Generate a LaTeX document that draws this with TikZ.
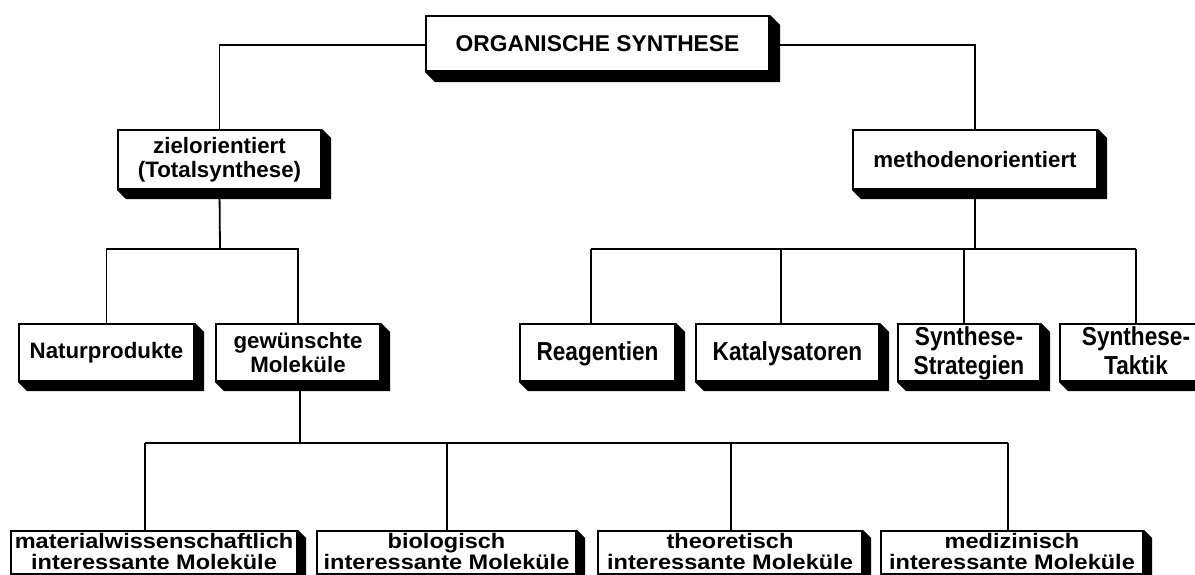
\documentclass[tikz,border=0pt]{standalone}
\usepackage{fontspec}
\setmainfont{Liberation Sans}
\usepackage{graphicx}
\newcommand\condtext[1]{\scalebox{0.87}[1]{\begin{tabular}{@{}c@{}}#1\end{tabular}}}
\newcommand\widetext[1]{\scalebox{1.12}[1]{\begin{tabular}{@{}c@{}}#1\end{tabular}}}
\newcommand\boxshadow[2]{%
  \fill (#1.north east) -- ++(#2,#2) -- ([shift={(#2,#2)}]#1.south east)
    -- ([shift={(#2,#2)}]#1.south west) -- (#1.south west) -- (#1.south east) -- cycle;}
\begin{document}
\begin{tikzpicture}[x=1pt,y=-1pt,
  conn/.style={line width=1.8pt},
  box/.style={draw, line width=2.1pt, fill=white, inner sep=0pt, align=center,
    font=\bfseries\fontsize{22.3}{24}\selectfont},
  midbox/.style={box, minimum height=57pt},
  condbox/.style={box, minimum height=57pt},
  condlabel/.style={inner sep=0pt, yshift=-2pt, font=\bfseries\fontsize{26}{29}\selectfont},
  lowbox/.style={box, minimum height=43pt},
  lowlabel/.style={inner sep=0pt, yshift=-1.5pt, font=\bfseries\fontsize{21}{19}\selectfont}]
\useasboundingbox (0,0) rectangle (1195,575);

% named junction coordinates
\coordinate (tl) at (220,45);
\coordinate (jl) at (220,249);
\coordinate (jr) at (975,249);
\coordinate (r1) at (591,249);
\coordinate (r2) at (781,249);
\coordinate (r3) at (964,249);
\coordinate (r4) at (1136,249);
\coordinate (jb) at (300,443);
\coordinate (b1j) at (145,443);
\coordinate (b2j) at (447,443);
\coordinate (b3j) at (731,443);
\coordinate (b4j) at (1008,443);

% nodes
\node[box, minimum width=343pt, minimum height=55pt, font=\bfseries\fontsize{22.8}{24}\selectfont] (top) at (597.5,43.5) {ORGANISCHE SYNTHESE};
\node[box, minimum width=203pt, minimum height=59pt] (ziel) at (219.5,159.5) {zielorientiert\\(Totalsynthese)};
\node[box, minimum width=244pt, minimum height=59pt] (meth) at (975,159.5) {methodenorientiert};
\node[midbox, minimum width=175pt] (natur) at (106.5,352.5) {Naturprodukte};
\node[midbox, minimum width=164pt] (gew) at (298,352.5) {gewünschte\\Moleküle};
\node[condbox, minimum width=155pt, label={[condlabel]center:\condtext{Reagentien}}] (reag) at (597.5,352.5) {};
\node[condbox, minimum width=183pt, label={[condlabel]center:\condtext{Katalysatoren}}] (kat) at (787.5,352.5) {};
\node[condbox, minimum width=142pt, label={[condlabel]center:\condtext{Synthese-\\Strategien}}] (strat) at (969,352.5) {};
\node[condbox, minimum width=152pt, label={[condlabel]center:\condtext{Synthese-\\Taktik}}] (takt) at (1136,352.5) {};
\node[lowbox, minimum width=286pt, label={[lowlabel]center:\widetext{materialwissenschaftlich\\interessante Moleküle}}] (b1) at (154,552.5) {};
\node[lowbox, minimum width=259pt, label={[lowlabel]center:\widetext{biologisch\\interessante Moleküle}}] (b2) at (446.5,552.5) {};
\node[lowbox, minimum width=264pt, label={[lowlabel]center:\widetext{theoretisch\\interessante Moleküle}}] (b3) at (730,552.5) {};
\node[lowbox, minimum width=262pt, label={[lowlabel]center:\widetext{medizinisch\\interessante Moleküle}}] (b4) at (1012,552.5) {};

% shadows
\boxshadow{top}{10}
\boxshadow{ziel}{9}
\boxshadow{meth}{9}
\boxshadow{natur}{9}
\boxshadow{gew}{9}
\boxshadow{reag}{9}
\boxshadow{kat}{9}
\boxshadow{strat}{9}
\boxshadow{takt}{9}
\boxshadow{b1}{8}
\boxshadow{b2}{8}
\boxshadow{b3}{8}
\boxshadow{b4}{8}

% connectors
\draw[conn] (top.west |- tl) -| (ziel.north);
\draw[conn] (top.east |- tl) -| (meth.north);
\draw[conn] (ziel.south) -- (jl);
\draw[conn] (natur.north) |- (jl) -| (gew.north);
\draw[conn] (meth.south) -- (jr);
\draw[conn] (r1) -- (r4);
\draw[conn] (r1) -- (r1 |- reag.north);
\draw[conn] (r2) -- (r2 |- kat.north);
\draw[conn] (r3) -- (r3 |- strat.north);
\draw[conn] (r4) -- (r4 |- takt.north);
\draw[conn] (jb |- gew.south) -- (jb);
\draw[conn] (b1j) -- (b4j);
\draw[conn] (b1j) -- (b1j |- b1.north);
\draw[conn] (b2j) -- (b2j |- b2.north);
\draw[conn] (b3j) -- (b3j |- b3.north);
\draw[conn] (b4j) -- (b4j |- b4.north);
\end{tikzpicture}
\end{document}
